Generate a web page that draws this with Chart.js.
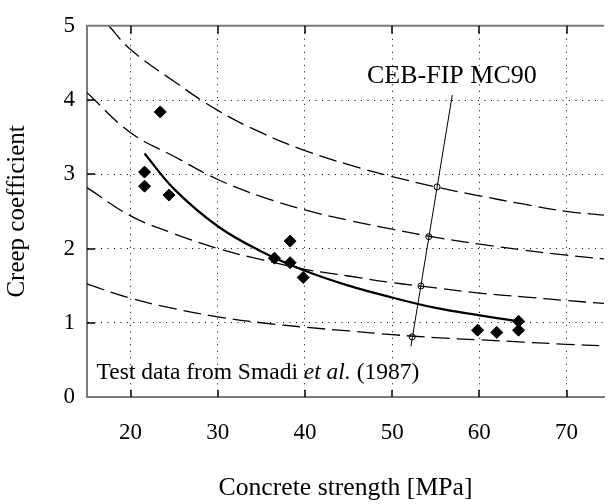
<!DOCTYPE html>
<html>
<head>
<meta charset="utf-8">
<script src="https://cdn.jsdelivr.net/npm/chart.js@4.4.1/dist/chart.umd.min.js"></script>
<style>
  html, body { margin: 0; padding: 0; background: #fff; }
  #wrap { width: 611px; height: 504px; }
</style>
</head>
<body>
<div id="wrap"><canvas id="myChart"></canvas></div>
<script>
"use strict";

// axis ticks
const xTicks = [20, 30, 40, 50, 60, 70];
const yTicks = [0, 1, 2, 3, 4, 5];

// dashed reference curves
const curveX = [15, 20, 25, 30, 35, 40, 45, 50, 55, 60, 65, 70, 74.3];
const curveAX = [17.5, 20, 25, 30, 35, 40, 45, 50, 55, 60, 65, 70, 74.3];
const curveA = [5.0, 4.68, 4.25, 3.86, 3.56, 3.32, 3.13, 2.97, 2.83, 2.71, 2.6, 2.5, 2.45];
const curveB = [4.1, 3.56, 3.24, 2.93, 2.7, 2.52, 2.38, 2.26, 2.15, 2.06, 1.98, 1.91, 1.86];
const curveC = [2.82, 2.44, 2.2, 2.0, 1.85, 1.72, 1.63, 1.54, 1.47, 1.4, 1.35, 1.3, 1.26];
const curveD = [1.52, 1.33, 1.19, 1.08, 1.0, 0.94, 0.89, 0.84, 0.8, 0.77, 0.74, 0.71, 0.69];

// solid fit curve
const fitX = [21.6, 25, 30, 35, 40, 45, 50, 55, 60, 64.5];
const fitY = [3.28, 2.8, 2.3, 1.96, 1.7, 1.5, 1.34, 1.2, 1.1, 1.02];

// CEB-FIP MC90 line and its marks
const mc90X = [52.15, 56.9];
const mc90Y = [0.68, 4.07];
const mc90PtX = [52.3, 53.3, 54.2, 55.15];
const mc90PtY = [0.81, 1.495, 2.16, 2.83];

// test data (Smadi et al. 1987)
const testX = [21.6, 21.6, 23.4, 24.4, 36.5, 38.3, 38.3, 39.8, 59.8, 62.0, 64.5, 64.5];
const testY = [3.03, 2.84, 3.84, 2.72, 1.87, 2.1, 1.81, 1.61, 0.9, 0.87, 1.02, 0.9];

const serif = "'Liberation Serif', 'DejaVu Serif', serif";
const axisGrey = "#7a7a7a";

const pts = (xs, ys) => xs.map((x, i) => ({ x: x, y: ys[i] }));

const dashed = (xs, ys) => ({
  data: pts(xs, ys),
  showLine: true,
  borderColor: "#000",
  borderWidth: 1.3,
  borderDash: [18, 7],
  pointRadius: 0,
  tension: 0.4,
  fill: false,
});

const annot = {
  id: "annot",
  afterDraw(chart) {
    const { ctx, chartArea: a, scales } = chart;
    const sx = scales.x, sy = scales.y;
    ctx.save();
    // top frame
    ctx.strokeStyle = axisGrey;
    ctx.lineWidth = 2;
    ctx.beginPath();
    ctx.moveTo(a.left, a.top);
    ctx.lineTo(a.right, a.top);
    ctx.stroke();
    // inward ticks
    ctx.strokeStyle = "#000";
    ctx.lineWidth = 1.5;
    ctx.beginPath();
    xTicks.forEach((v) => {
      const px = Math.round(sx.getPixelForValue(v));
      ctx.moveTo(px, a.bottom);
      ctx.lineTo(px, a.bottom - 7);
      ctx.moveTo(px, a.top);
      ctx.lineTo(px, a.top + 8);
    });
    yTicks.slice(1, -1).forEach((v) => {
      const py = Math.round(sy.getPixelForValue(v));
      ctx.moveTo(a.left, py);
      ctx.lineTo(a.left + 8, py);
    });
    ctx.stroke();

    ctx.fillStyle = "#000";
    ctx.textBaseline = "alphabetic";
    ctx.font = "26px " + serif;
    ctx.textAlign = "center";
    ctx.fillText("CEB-FIP MC90", sx.getPixelForValue(56.85), sy.getPixelForValue(4.23));

    ctx.textAlign = "left";
    let x = sx.getPixelForValue(16.1);
    const y = sy.getPixelForValue(0.24);
    const parts = [
      ["Test data from Smadi ", "normal"],
      ["et al.", "italic"],
      [" (1987)", "normal"],
    ];
    parts.forEach(([t, st]) => {
      ctx.font = (st === "italic" ? "italic " : "") + "23.5px " + serif;
      ctx.fillText(t, x, y);
      x += ctx.measureText(t).width;
    });
    ctx.restore();
  },
};

new Chart("myChart", {
  type: "scatter",
  data: {
    datasets: [
      dashed(curveAX, curveA),
      dashed(curveX, curveB),
      dashed(curveX, curveC),
      dashed(curveX, curveD),
      {
        data: pts(fitX, fitY),
        showLine: true,
        borderColor: "#000",
        borderWidth: 2.2,
        pointRadius: 0,
        tension: 0.4,
      },
      {
        data: pts(mc90X, mc90Y),
        showLine: true,
        borderColor: "#000",
        borderWidth: 1,
        pointRadius: 0,
      },
      {
        data: pts(mc90PtX, mc90PtY),
        pointStyle: "circle",
        pointRadius: 3,
        backgroundColor: "#fff",
        borderColor: "#000",
        borderWidth: 1,
      },
      {
        data: pts(testX, testY),
        pointStyle: "rectRot",
        pointRadius: 6,
        backgroundColor: "#000",
        borderColor: "#000",
        borderWidth: 1,
      },
    ],
  },
  options: {
    responsive: true,
    maintainAspectRatio: false,
    animation: false,
    layout: { padding: { top: 19, right: 0, left: 0, bottom: 0 } },
    plugins: {
      legend: { display: false },
      tooltip: { enabled: false },
    },
    scales: {
      x: {
        type: "linear",
        min: 15,
        max: 74.3,
        afterBuildTicks: (s) => {
          s.ticks = xTicks.map((v) => ({ value: v }));
        },
        afterFit: (s) => {
          s.height = 107;
        },
        border: { display: true, color: axisGrey, width: 2, dash: [1, 5.5] },
        grid: {
          color: "#000",
          lineWidth: 1,
          drawTicks: false,
        },
        ticks: {
          color: "#000",
          font: { family: serif, size: 23 },
          padding: 22,
          maxRotation: 0,
        },
        title: {
          display: true,
          text: "Concrete strength [MPa]",
          color: "#000",
          font: { family: serif, size: 25.7 },
          padding: { top: 0, bottom: 0 },
        },
      },
      y: {
        min: 0,
        max: 5,
        afterBuildTicks: (s) => {
          s.ticks = yTicks.map((v) => ({ value: v }));
        },
        afterFit: (s) => {
          s.width = 87;
        },
        border: { display: true, color: axisGrey, width: 2, dash: [1, 5.5] },
        grid: {
          color: "#000",
          lineWidth: 1,
          drawTicks: false,
        },
        ticks: {
          color: "#000",
          font: { family: serif, size: 23 },
          padding: 12,
        },
        title: {
          display: true,
          text: "Creep coefficient",
          color: "#000",
          font: { family: serif, size: 25 },
          padding: { top: 2, bottom: 0 },
        },
      },
    },
  },
  plugins: [annot],
});
</script>
</body>
</html>
